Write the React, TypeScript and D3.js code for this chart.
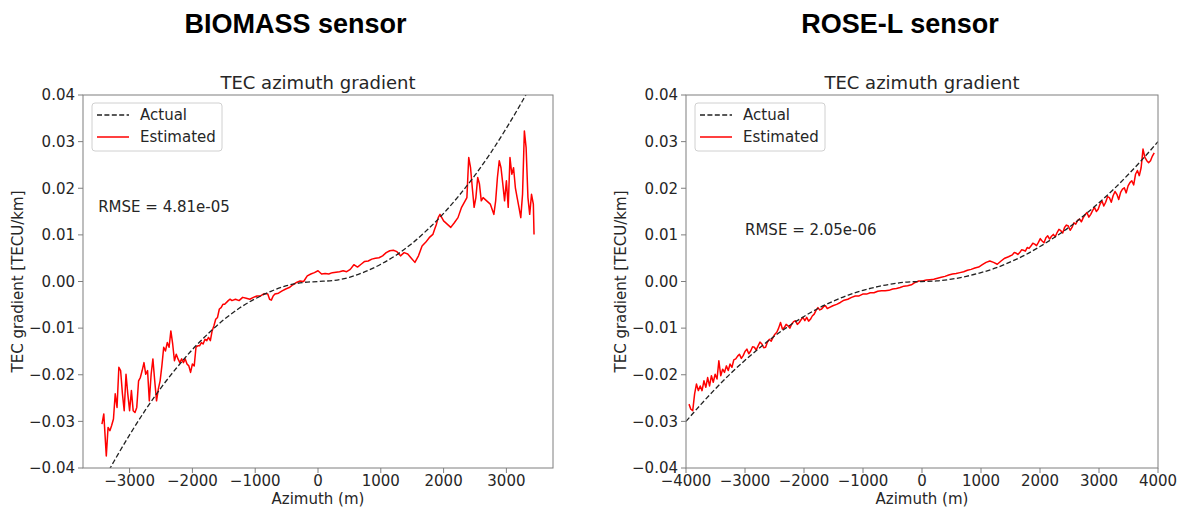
import React from 'react';
import * as d3 from 'd3';

// values (azimuth in m, gradient in TECU/km)
const yTicks = [-0.04, -0.03, -0.02, -0.01, 0, 0.01, 0.02, 0.03, 0.04];
const biomassXTicks = [-3000, -2000, -1000, 0, 1000, 2000, 3000];
const roseXTicks = [-4000, -3000, -2000, -1000, 0, 1000, 2000, 3000, 4000];

const biomassActual: [number, number][] = [
  [-3500, -0.0447], [-3250, -0.0386], [-3000, -0.0329], [-2750, -0.0276], [-2500, -0.0228],
  [-2250, -0.0185], [-2000, -0.0146], [-1750, -0.0112], [-1500, -0.0082], [-1250, -0.0057],
  [-1000, -0.0037], [-750, -0.0021], [-500, -0.0009], [-250, -0.00023], [0, 0],
  [250, 0.00023], [500, 0.0009], [750, 0.0021], [1000, 0.0037], [1250, 0.0057],
  [1500, 0.0082], [1750, 0.0112], [2000, 0.0146], [2250, 0.0185], [2500, 0.0228],
  [2750, 0.0276], [3000, 0.0329], [3250, 0.0386], [3500, 0.0447],
];

const biomassEstimated: [number, number][] = [
  [-3440, -0.0306], [-3411, -0.0284], [-3371, -0.0374], [-3343, -0.0313], [-3314, -0.032],
  [-3286, -0.0309], [-3257, -0.0295], [-3229, -0.0241], [-3200, -0.027], [-3171, -0.0184],
  [-3143, -0.0191], [-3114, -0.0241], [-3086, -0.0277], [-3057, -0.0199], [-3029, -0.0241],
  [-3000, -0.0277], [-2971, -0.0234], [-2943, -0.0277], [-2914, -0.0281], [-2886, -0.027],
  [-2857, -0.0213], [-2829, -0.0206], [-2800, -0.0191], [-2771, -0.0174], [-2743, -0.0199],
  [-2714, -0.0191], [-2686, -0.0256], [-2657, -0.0199], [-2629, -0.0166], [-2600, -0.0213],
  [-2571, -0.0256], [-2543, -0.0231], [-2514, -0.0213], [-2486, -0.0181], [-2457, -0.0141],
  [-2429, -0.0149], [-2400, -0.0131], [-2371, -0.0141], [-2343, -0.0106], [-2314, -0.0134],
  [-2286, -0.017], [-2257, -0.0156], [-2229, -0.0166], [-2200, -0.0174], [-2171, -0.0166],
  [-2143, -0.0174], [-2114, -0.0166], [-2086, -0.0177], [-2057, -0.0181], [-2029, -0.0195],
  [-2000, -0.0177], [-1971, -0.0181], [-1943, -0.0141], [-1914, -0.0138], [-1886, -0.0138],
  [-1857, -0.0131], [-1829, -0.0134], [-1800, -0.0124], [-1771, -0.0127], [-1743, -0.012],
  [-1714, -0.0127], [-1686, -0.0106], [-1657, -0.0095], [-1629, -0.0081], [-1600, -0.0077],
  [-1571, -0.0059], [-1543, -0.0056], [-1514, -0.0049], [-1486, -0.0049], [-1429, -0.0041],
  [-1400, -0.0038], [-1371, -0.0041], [-1314, -0.0038], [-1257, -0.0041], [-1200, -0.0034],
  [-1143, -0.0036], [-1086, -0.0038], [-1029, -0.0034], [-971, -0.0031], [-914, -0.0031],
  [-857, -0.0026], [-800, -0.0027], [-771, -0.0038], [-743, -0.004], [-714, -0.0031],
  [-686, -0.0027], [-629, -0.0025], [-571, -0.002], [-514, -0.0016], [-457, -0.0013],
  [-400, -0.0007], [-343, -0.0002], [-286, 0.0001], [-229, 0.0], [-171, 0.0012],
  [-114, 0.0016], [-57, 0.0019], [0, 0.0023], [57, 0.0016], [114, 0.0017],
  [171, 0.0016], [229, 0.0019], [286, 0.002], [343, 0.0021], [400, 0.0023],
  [457, 0.0021], [514, 0.0026], [571, 0.0036], [629, 0.0031], [686, 0.0037],
  [743, 0.0043], [800, 0.0044], [857, 0.0048], [914, 0.005], [971, 0.0051],
  [1029, 0.0055], [1086, 0.0062], [1143, 0.0066], [1200, 0.0067], [1257, 0.0064],
  [1314, 0.0055], [1371, 0.0062], [1429, 0.0059], [1486, 0.005], [1543, 0.0041],
  [1600, 0.0055], [1657, 0.0076], [1714, 0.0084], [1771, 0.0094], [1829, 0.0101],
  [1857, 0.0112], [1886, 0.0123], [1914, 0.0137], [1943, 0.0144], [2000, 0.013],
  [2057, 0.0123], [2114, 0.0116], [2171, 0.0126], [2229, 0.0137], [2286, 0.0159],
  [2343, 0.0173], [2371, 0.018], [2400, 0.0266], [2429, 0.0244], [2457, 0.0201],
  [2486, 0.0159], [2514, 0.018], [2543, 0.0223], [2571, 0.0209], [2600, 0.0173],
  [2629, 0.018], [2686, 0.0173], [2743, 0.0166], [2800, 0.0144], [2829, 0.0173],
  [2857, 0.0223], [2886, 0.0259], [2914, 0.0244], [2943, 0.0209], [2971, 0.0173],
  [3000, 0.0216], [3029, 0.0159], [3057, 0.0266], [3086, 0.023], [3114, 0.0244],
  [3143, 0.0201], [3171, 0.018], [3200, 0.0159], [3229, 0.0137], [3257, 0.0187],
  [3286, 0.0323], [3314, 0.0287], [3343, 0.018], [3371, 0.0144], [3400, 0.0187],
  [3429, 0.0166], [3440, 0.0101],
];

const roseActual: [number, number][] = [
  [-4000, -0.03], [-3750, -0.0264], [-3500, -0.023], [-3250, -0.0198], [-3000, -0.0169],
  [-2750, -0.0142], [-2500, -0.0117], [-2250, -0.0095], [-2000, -0.0075], [-1750, -0.0057],
  [-1500, -0.0042], [-1250, -0.0029], [-1000, -0.0019], [-750, -0.0011], [-500, -0.0005],
  [-250, -0.00012], [0, 0], [250, 0.00012], [500, 0.0005], [750, 0.0011],
  [1000, 0.0019], [1250, 0.0029], [1500, 0.0042], [1750, 0.0057], [2000, 0.0075],
  [2250, 0.0095], [2500, 0.0117], [2750, 0.0142], [3000, 0.0169], [3250, 0.0198],
  [3500, 0.023], [3750, 0.0264], [4000, 0.03],
];

const roseEstimated: [number, number][] = [
  [-3949, -0.0263], [-3918, -0.0274], [-3886, -0.0277], [-3854, -0.0241], [-3823, -0.022],
  [-3791, -0.0234], [-3759, -0.0224], [-3728, -0.0234], [-3696, -0.0213], [-3664, -0.0227],
  [-3633, -0.0206], [-3601, -0.0224], [-3569, -0.0202], [-3538, -0.0216], [-3506, -0.0199],
  [-3474, -0.0209], [-3443, -0.017], [-3411, -0.0202], [-3379, -0.0188], [-3347, -0.0195],
  [-3316, -0.0181], [-3284, -0.0191], [-3253, -0.0177], [-3221, -0.0184], [-3190, -0.0168],
  [-3157, -0.0166], [-3125, -0.0160], [-3094, -0.0156], [-3062, -0.0165], [-3031, -0.0159],
  [-3000, -0.0150], [-2968, -0.0145], [-2936, -0.0155], [-2904, -0.0149], [-2872, -0.0140],
  [-2841, -0.0141], [-2810, -0.0147], [-2778, -0.0138], [-2746, -0.0130], [-2714, -0.0134],
  [-2683, -0.0142], [-2651, -0.0141], [-2620, -0.0130], [-2588, -0.0124], [-2556, -0.0128],
  [-2524, -0.012], [-2493, -0.0113], [-2461, -0.0109], [-2430, -0.0100], [-2398, -0.0088],
  [-2366, -0.0102], [-2334, -0.0099], [-2303, -0.0092], [-2271, -0.0095], [-2240, -0.0100],
  [-2208, -0.0091], [-2176, -0.0086], [-2144, -0.0084], [-2113, -0.0092], [-2081, -0.0088],
  [-2050, -0.0082], [-2018, -0.0077], [-1986, -0.0084], [-1954, -0.0077], [-1922, -0.0085],
  [-1891, -0.0081], [-1860, -0.0074], [-1827, -0.007], [-1796, -0.0062], [-1764, -0.0056],
  [-1733, -0.0061], [-1701, -0.0059], [-1669, -0.0054], [-1637, -0.0052], [-1605, -0.0058],
  [-1574, -0.0056], [-1511, -0.0052], [-1447, -0.0049], [-1384, -0.0045], [-1321, -0.004],
  [-1257, -0.0038], [-1194, -0.0034], [-1131, -0.0031], [-1067, -0.0031], [-1004, -0.0027],
  [-940, -0.0027], [-877, -0.0024], [-814, -0.0024], [-750, -0.0021], [-687, -0.002],
  [-624, -0.002], [-560, -0.0019], [-497, -0.0016], [-434, -0.0015], [-370, -0.0013],
  [-307, -0.001], [-244, -0.0009], [-180, -0.0007], [-117, -0.0002], [-54, 0.0001],
  [10, 0.0001], [73, 0.0003], [136, 0.0004], [200, 0.0005], [263, 0.0007],
  [326, 0.0009], [389, 0.0011], [453, 0.0014], [516, 0.0016], [579, 0.0017],
  [643, 0.0019], [706, 0.0021], [770, 0.0024], [833, 0.0026], [896, 0.0029],
  [960, 0.0031], [1023, 0.0036], [1086, 0.0041], [1150, 0.0044], [1213, 0.0041],
  [1276, 0.0037], [1340, 0.0044], [1403, 0.005], [1466, 0.0053], [1530, 0.0057],
  [1561, 0.0062], [1593, 0.0061], [1625, 0.0058], [1656, 0.0062], [1688, 0.0068],
  [1720, 0.0067], [1752, 0.0065], [1783, 0.0073], [1815, 0.0071], [1846, 0.0076],
  [1878, 0.0082], [1910, 0.008], [1941, 0.0077], [1973, 0.0084], [2005, 0.0092],
  [2036, 0.0087], [2068, 0.0083], [2100, 0.0094], [2131, 0.0098], [2163, 0.0091],
  [2195, 0.0097], [2226, 0.0101], [2258, 0.0096], [2290, 0.0105], [2321, 0.0112],
  [2353, 0.0109], [2385, 0.0104], [2416, 0.0116], [2448, 0.0121], [2480, 0.0119],
  [2511, 0.0110], [2543, 0.0116], [2575, 0.0126], [2606, 0.0123], [2638, 0.0131],
  [2670, 0.0134], [2701, 0.0128], [2733, 0.0137], [2765, 0.0143], [2796, 0.0148],
  [2828, 0.0138], [2860, 0.0144], [2891, 0.0152], [2923, 0.0159], [2955, 0.0150],
  [2986, 0.0155], [3018, 0.0166], [3050, 0.0173], [3081, 0.0162], [3113, 0.017],
  [3145, 0.0182], [3176, 0.018], [3208, 0.0170], [3239, 0.0184], [3271, 0.0193],
  [3303, 0.0187], [3334, 0.0176], [3366, 0.0191], [3398, 0.0198], [3429, 0.0201],
  [3461, 0.0190], [3493, 0.0205], [3524, 0.0212], [3556, 0.0216], [3588, 0.0207],
  [3619, 0.023], [3651, 0.0238], [3683, 0.0227], [3714, 0.0244], [3746, 0.0284],
  [3778, 0.0266], [3810, 0.0259], [3841, 0.0255], [3873, 0.0259], [3905, 0.0269],
  [3936, 0.0276],
];

const font = "'DejaVu Sans', sans-serif";
const ink = '#262626';
const spine = '#7f7f7f';
const minus = (s: string) => s.replace('-', '\u2212');

type PanelProps = {
  id: string;
  left: number;
  right: number;
  xDomain: [number, number];
  xTicks: number[];
  actual: [number, number][];
  estimated: [number, number][];
  rmse: string;
  rmseAt: [number, number];
};

const top = 95;
const bottom = 468;

function Panel({ id, left, right, xDomain, xTicks, actual, estimated, rmse, rmseAt }: PanelProps) {
  const x = d3.scaleLinear().domain(xDomain).range([left, right]);
  const y = d3.scaleLinear().domain([-0.04, 0.04]).range([bottom, top]);
  const smooth = d3.line<[number, number]>().x(d => x(d[0])).y(d => y(d[1])).curve(d3.curveMonotoneX);
  const jagged = d3.line<[number, number]>().x(d => x(d[0])).y(d => y(d[1]));
  const fmtY = d3.format('.2f');
  const cx = (left + right) / 2;
  const lx = left + 9;
  const ly = top + 8;

  return (
    <g fontFamily={font} fill={ink}>
      <defs>
        <clipPath id={id}>
          <rect x={left} y={top} width={right - left} height={bottom - top} />
        </clipPath>
      </defs>
      <g clipPath={`url(#${id})`}>
        <path d={jagged(estimated) || ''} fill="none" stroke="#ff0000" strokeWidth={1.5} strokeLinejoin="round" />
        <path d={smooth(actual) || ''} fill="none" stroke="#222" strokeWidth={1.3} strokeDasharray="5,2.4" />
      </g>
      <rect x={left} y={top} width={right - left} height={bottom - top} fill="none" stroke={spine} strokeWidth={1} />
      {yTicks.map(t => (
        <g key={'y' + t}>
          <line x1={left - 5} x2={left} y1={y(t)} y2={y(t)} stroke={spine} />
          <text x={left - 8} y={y(t)} dy="0.35em" textAnchor="end" fontSize={15}>{minus(fmtY(t))}</text>
        </g>
      ))}
      {xTicks.map(t => (
        <g key={'x' + t}>
          <line x1={x(t)} x2={x(t)} y1={bottom} y2={bottom + 5} stroke={spine} />
          <text x={x(t)} y={bottom + 18} textAnchor="middle" fontSize={15}>{minus(String(t))}</text>
        </g>
      ))}
      <text x={cx} y={89} textAnchor="middle" fontSize={18}>TEC azimuth gradient</text>
      <text x={cx} y={504} textAnchor="middle" fontSize={15}>Azimuth (m)</text>
      <text transform={`translate(${left - 65},${(top + bottom) / 2}) rotate(-90)`} dy="0.35em" textAnchor="middle" fontSize={15}>
        TEC gradient [TECU/km]
      </text>
      <text x={x(rmseAt[0])} y={y(rmseAt[1])} fontSize={15}>{rmse}</text>
      <rect x={lx} y={ly} width={130} height={48} rx={3} fill="#fff" fillOpacity={0.8} stroke="#d0d0d0" />
      <line x1={lx + 5} x2={lx + 37} y1={ly + 12} y2={ly + 12} stroke="#222" strokeWidth={1.3} strokeDasharray="5,2.4" />
      <line x1={lx + 5} x2={lx + 37} y1={ly + 34} y2={ly + 34} stroke="#ff0000" strokeWidth={1.5} />
      <text x={lx + 48} y={ly + 12} dy="0.35em" fontSize={15}>Actual</text>
      <text x={lx + 48} y={ly + 34} dy="0.35em" fontSize={15}>Estimated</text>
    </g>
  );
}

export default function App() {
  return (
    <svg width={1183} height={509} style={{ position: 'absolute', left: 0, top: 0, background: '#fff' }}>
      <rect width={1183} height={509} fill="#fff" />
      <text x={295.5} y={33} textAnchor="middle" fontFamily="'Liberation Sans', Arial, sans-serif" fontWeight="bold" fontSize={27} fill="#000">
        BIOMASS sensor
      </text>
      <text x={900} y={33} textAnchor="middle" fontFamily="'Liberation Sans', Arial, sans-serif" fontWeight="bold" fontSize={27} fill="#000">
        ROSE-L sensor
      </text>
      <Panel
        id="clip-biomass"
        left={83}
        right={553}
        xDomain={[-3742, 3742]}
        xTicks={biomassXTicks}
        actual={biomassActual}
        estimated={biomassEstimated}
        rmse="RMSE = 4.81e-05"
        rmseAt={[-3500, 0.015]}
      />
      <Panel
        id="clip-rose"
        left={686}
        right={1158}
        xDomain={[-4000, 4000]}
        xTicks={roseXTicks}
        actual={roseActual}
        estimated={roseEstimated}
        rmse="RMSE = 2.05e-06"
        rmseAt={[-3000, 0.01]}
      />
    </svg>
  );
}
